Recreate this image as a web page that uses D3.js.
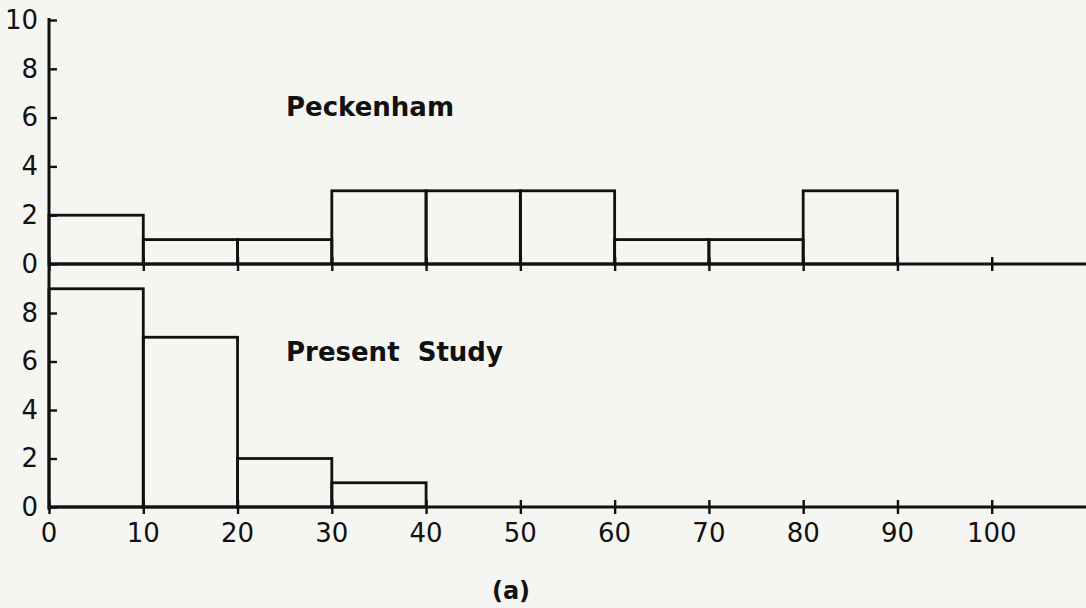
<!DOCTYPE html>
<html>
<head>
<meta charset="utf-8">
<script src="https://cdn.jsdelivr.net/npm/d3@7"></script>
<style>
  body { margin: 0; background: #f5f5f2; }
  svg { display: block; }
  text { font-family: "DejaVu Sans", sans-serif; fill: #111; }
</style>
</head>
<body>
<svg id="chart" width="1086" height="608"></svg>
<script>
// bin starts (width 10)
const binStarts = [0, 10, 20, 30, 40, 50, 60, 70, 80, 90];
const peckenham = [2, 1, 1, 3, 3, 3, 1, 1, 3, 0];
const presentStudy = [9, 7, 2, 1, 0, 0, 0, 0, 0, 0];
const xTicks = [0, 10, 20, 30, 40, 50, 60, 70, 80, 90, 100];
const yTicksTop = [0, 2, 4, 6, 8, 10];
const yTicksBottom = [0, 2, 4, 6, 8];
const panelTitles = ["Peckenham", "Present  Study"];

const svg = d3.select("#chart");
const ink = "#111";

const x = d3.scaleLinear().domain([0, 110]).range([49, 1086]);
const yTop = d3.scaleLinear().domain([0, 10]).range([264, 20]);
const yBottom = d3.scaleLinear().domain([0, 10]).range([507, 264.5]);

function drawPanel(values, y, yTicks, title, titleY) {
  const g = svg.append("g");

  // bars
  g.selectAll("rect")
    .data(binStarts.map((s, i) => ({ s, v: values[i] })).filter(d => d.v > 0))
    .enter()
    .append("rect")
    .attr("x", d => x(d.s))
    .attr("width", d => x(d.s + 10) - x(d.s))
    .attr("y", d => y(d.v))
    .attr("height", d => y(0) - y(d.v))
    .attr("fill", "none")
    .attr("stroke", ink)
    .attr("stroke-width", 2.8);

  // baseline with crossing ticks
  const xAxis = d3.axisBottom(x).tickValues(xTicks).tickSize(7).tickFormat("");
  const xg = g.append("g").attr("transform", `translate(0,${y(0)})`).call(xAxis);
  xg.select(".domain").attr("d", `M${x(0)},0H1086`).attr("stroke", ink).attr("stroke-width", 2.8);
  xg.selectAll(".tick line").attr("y1", -7).attr("stroke", ink).attr("stroke-width", 2.4);

  // y axis
  const yAxis = d3.axisLeft(y).tickValues(yTicks).tickSize(8).tickPadding(10);
  const yg = g.append("g").attr("transform", `translate(${x(0)},0)`).call(yAxis);
  yg.select(".domain").remove();
  yg.selectAll(".tick line").attr("x2", 8).attr("stroke", ink).attr("stroke-width", 2.4);
  yg.selectAll(".tick text")
    .attr("font-size", 26)
    .attr("font-family", "DejaVu Sans")
    .attr("fill", ink)
    .attr("x", -11);

  g.append("text")
    .attr("x", 286)
    .attr("y", titleY)
    .attr("font-size", 26)
    .attr("font-weight", "bold")
    .attr("xml:space", "preserve")
    .style("white-space", "pre")
    .text(title);
}

drawPanel(peckenham, yTop, yTicksTop, panelTitles[0], 116);
drawPanel(presentStudy, yBottom, yTicksBottom, panelTitles[1], 361);

// vertical axis line
svg.append("line")
  .attr("x1", x(0)).attr("x2", x(0))
  .attr("y1", yTop(10) - 2).attr("y2", yBottom(0) + 3)
  .attr("stroke", ink).attr("stroke-width", 3);

// x tick labels
svg.append("g")
  .selectAll("text")
  .data(xTicks)
  .enter()
  .append("text")
  .attr("x", d => x(d))
  .attr("y", 542)
  .attr("text-anchor", "middle")
  .attr("font-size", 26)
  .text(d => d);

// panel label
svg.append("text")
  .attr("x", 511)
  .attr("y", 599)
  .attr("text-anchor", "middle")
  .attr("font-size", 24)
  .attr("font-weight", "bold")
  .text("(a)");
</script>
</body>
</html>
